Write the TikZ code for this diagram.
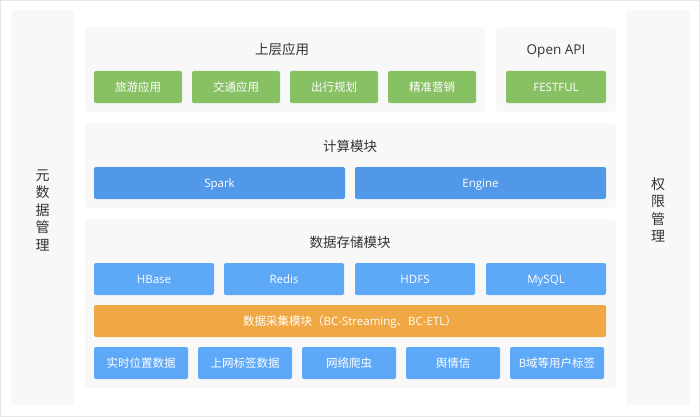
\documentclass[tikz,border=0pt]{standalone}
\usepackage{fontspec}
\setmainfont{Open Sans}
\newfontfamily\cjk{Noto Sans CJK SC}
\usetikzlibrary{positioning}
\definecolor{panelgray}{HTML}{F8F8F8}
\definecolor{framegray}{HTML}{E6E6E6}
\definecolor{appgreen}{HTML}{88C064}
\definecolor{calcblue}{HTML}{5298E8}
\definecolor{storeblue}{HTML}{5EA8F8}
\definecolor{etlorange}{HTML}{F0A844}
\definecolor{titlegray}{HTML}{333333}
\tikzset{
  panel/.style={fill=panelgray, rounded corners=3pt, inner sep=0pt},
  boxnode/.style={rounded corners=2pt, inner sep=0pt, minimum height=32pt, text height=10pt, text depth=1pt, text=white, font=\fontsize{11.5}{12}\selectfont},
  appbox/.style={boxnode, fill=appgreen},
  calcbox/.style={boxnode, fill=calcblue},
  storebox/.style={boxnode, fill=storeblue},
  etlbox/.style={boxnode, fill=etlorange},
  paneltitle/.style={text=titlegray, text height=11.5pt, text depth=1.5pt, font=\fontsize{13.5}{14}\selectfont},
  sidetitle/.style={text=titlegray, align=center, font=\fontsize{14}{17.5}\selectfont\cjk}
}
\begin{document}
\begin{tikzpicture}[x=1pt, y=-1pt]
	\useasboundingbox (0,0) rectangle (700,417);
	\draw[framegray, line width=0.8pt] (0.4,0.4) rectangle (699.6,416.6);
	% side panels
	\node[panel, minimum width=63pt, minimum height=395pt] (metapanel) at (42.5,207.5) {};
	\node[panel, minimum width=64pt, minimum height=395pt] (authpanel) at (658,207.5) {};
	\node[sidetitle] (metatitle) at (42.5,210) {元\\数\\据\\管\\理};
	\node[sidetitle] (authtitle) at (658,210) {权\\限\\管\\理};
	% upper applications
	\node[panel, minimum width=400pt, minimum height=85pt] (apppanel) at (285,69.5) {};
	\node[paneltitle] (apptitle) at (282,50) {\cjk 上层应用};
	\node[appbox, minimum width=88pt] (travel) at (138,87) {\cjk 旅游应用};
	\node[appbox, minimum width=88pt] (traffic) at (236,87) {\cjk 交通应用};
	\node[appbox, minimum width=88pt] (route) at (334,87) {\cjk 出行规划};
	\node[appbox, minimum width=88pt] (market) at (432,87) {\cjk 精准营销};
	\node[panel, minimum width=120pt, minimum height=85pt] (apipanel) at (556,69.5) {};
	\node[paneltitle] (apititle) at (556,50) {Open API};
	\node[appbox, minimum width=100pt] (festful) at (556,87) {FESTFUL};
	% compute
	\node[panel, minimum width=531pt, minimum height=85pt] (calcpanel) at (350.5,165.5) {};
	\node[paneltitle] (calctitle) at (350,146) {\cjk 计算模块};
	\node[calcbox, minimum width=251pt] (spark) at (219.5,183) {Spark};
	\node[calcbox, minimum width=251pt] (engine) at (480.5,183) {Engine};
	% storage
	\node[panel, minimum width=531pt, minimum height=169pt] (storepanel) at (350.5,303.5) {};
	\node[paneltitle] (storetitle) at (350,242) {\cjk 数据存储模块};
	\node[storebox, minimum width=120pt] (hbase) at (154,279) {HBase};
	\node[storebox, minimum width=120pt] (redis) at (284,279) {Redis};
	\node[storebox, minimum width=120pt] (hdfs) at (415,279) {HDFS};
	\node[storebox, minimum width=120pt] (mysql) at (546,279) {MySQL};
	\node[etlbox, minimum width=512pt] (collect) at (350,321) {{\cjk 数据采集模块（}BC-Streaming{\cjk 、}BC-ETL{\cjk ）}};
	\node[storebox, minimum width=94pt] (location) at (141,363) {\cjk 实时位置数据};
	\node[storebox, minimum width=94pt] (nettag) at (245,363) {\cjk 上网标签数据};
	\node[storebox, minimum width=94pt] (crawler) at (349,363) {\cjk 网络爬虫};
	\node[storebox, minimum width=94pt] (opinion) at (453,363) {\cjk 舆情信};
	\node[storebox, minimum width=94pt] (usertag) at (557,363) {B{\cjk 域等用户标签}};
\end{tikzpicture}
\end{document}
